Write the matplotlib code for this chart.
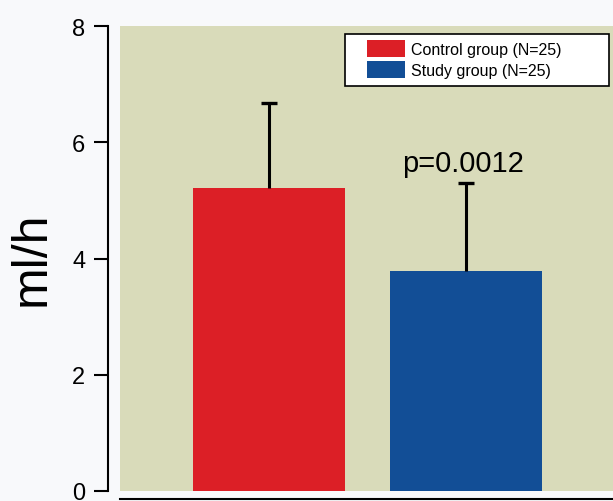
import matplotlib
matplotlib.use("Agg")
import matplotlib.pyplot as plt
from matplotlib.patches import Patch, Rectangle

groups = ["Control group (N=25)", "Study group (N=25)"]
means = [5.21, 3.79]
sd_upper = [1.47, 1.51]
p_text = "p=0.0012"
yticks = [0, 2, 4, 6, 8]
colors = ["#DC1F26", "#124E96"]

plt.rcParams['font.family'] = ['Liberation Sans', 'DejaVu Sans']

W, H = 613, 502
fig = plt.figure(figsize=(W / 100, H / 100), dpi=100, facecolor="#F8F9FB")

# axes in pixel coords: x 120..613, y 27..492
ax = fig.add_axes([120 / W, 1 - 492 / H, (613 - 120) / W, (492 - 27) / H])
ax.set_facecolor("#D9DBBA")
xpos = [0, 1]
ax.bar(xpos, means, width=0.77, color=colors, zorder=2)
tops = [m + s for m, s in zip(means, sd_upper)]
ax.vlines(xpos, means, tops, colors="black", linewidth=2.2, zorder=3)
ax.plot(xpos, tops, linestyle="none", marker="_", markersize=12,
        markeredgewidth=2.4, color="black", zorder=3)
ax.set_xlim(-0.754, 1.742)
ax.set_ylim(0, 8)
ax.set_yticks(yticks)
ax.set_yticklabels([str(t) for t in yticks])
ax.set_xticks([])
ax.tick_params(axis="y", length=10, width=1.5, pad=6, labelsize=17)
ax.spines["top"].set_visible(False)
ax.spines["right"].set_visible(False)
ax.spines["left"].set_position(("outward", 9))
ax.spines["left"].set_linewidth(1.5)
ax.spines["bottom"].set_position(("outward", 6))
ax.spines["bottom"].set_linewidth(1.5)
ax.set_ylabel("ml/h", fontsize=36)
ax.yaxis.set_label_coords((55 - 120) / (613 - 120), (492 - 259) / (492 - 27))

ax.text(1 - 0.015, 5.41, p_text, ha="center", va="bottom", fontsize=21)

# legend frame drawn manually (wider than its content in the reference)
fig.patches.append(Rectangle((345 / W, 1 - 87 / H), (609 - 345) / W, (87 - 35) / H,
                             transform=fig.transFigure, facecolor="white",
                             edgecolor="black", linewidth=1.2, zorder=5))
handles = [Patch(facecolor=c, edgecolor="none") for c in colors]
leg = fig.legend(handles, groups, loc="upper left",
                 bbox_to_anchor=(367 / W, 1 - 41 / H), fontsize=11.5,
                 frameon=False, handlelength=2.4, handleheight=1.3,
                 handletextpad=0.35, labelspacing=0.2, borderpad=0,
                 borderaxespad=0)
leg.set_zorder(6)

fig.savefig("out.png", dpi=100, facecolor=fig.get_facecolor())
